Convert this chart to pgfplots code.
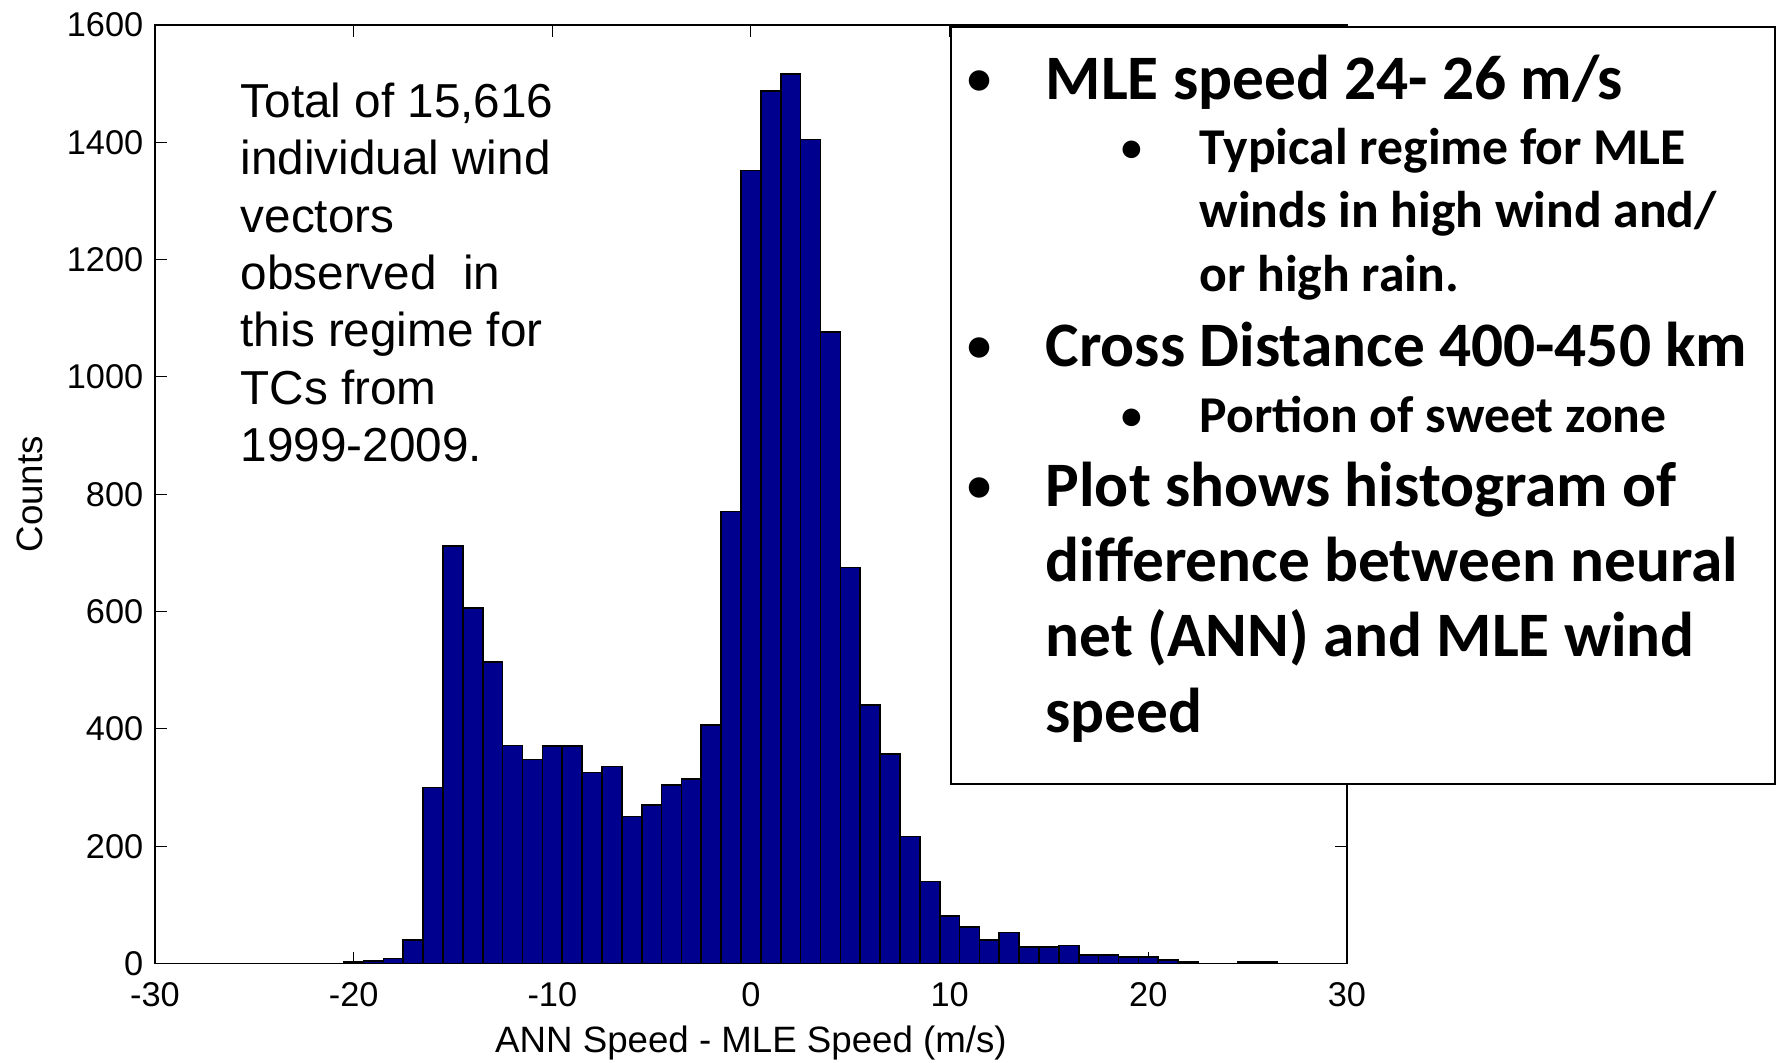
\documentclass[border=0pt]{standalone}
\usepackage{fontspec}
\setmainfont{Liberation Sans}
\newfontfamily\calibri{Carlito}
\usepackage{pgfplots}
\pgfplotsset{compat=1.18}
\definecolor{histblue}{RGB}{0,0,143}

% Histogram counts, one bin per 1 m/s, centred on integers
\pgfplotstableread{
x y
-20 3
-19 5
-18 9
-17 40
-16 300
-15 712
-14 606
-13 514
-12 372
-11 348
-10 371
-9 371
-8 326
-7 336
-6 251
-5 271
-4 304
-3 315
-2 407
-1 771
0 1352
1 1487
2 1516
3 1405
4 1077
5 675
6 441
7 357
8 217
9 140
10 81
11 62
12 40
13 53
14 28
15 28
16 31
17 15
18 15
19 11
20 11
21 6
22 3
23 0
24 0
25 3
26 3
}\histdata

\newcommand{\bigbullet}{{\fontsize{14.5}{17}\selectfont\raisebox{1.5pt}{\textbullet}}}
\newcommand{\smallbullet}{{\fontsize{12.5}{15}\selectfont\raisebox{1pt}{\textbullet}}}

\begin{document}
\begin{tikzpicture}[x=0.3pt,y=0.3pt]
\useasboundingbox (0,0) rectangle (1778,1063);
\begin{axis}[
  at={(46.5pt,29.8pt)}, anchor=south west,
  scale only axis, width=357.6pt, height=281.6pt,
  xmin=-30, xmax=30, ymin=0, ymax=1600,
  xtick={-30,-20,...,30}, ytick={0,200,...,1600},
  tick align=inside, major tick length=3.5pt,
  tick style={black, line width=0.3pt},
  axis line style={line width=0.5pt},
  /pgf/number format/assume math mode=true,
  /pgf/number format/1000 sep={},
  ticklabel style={font=\fontsize{10.3}{12}\selectfont},
  xticklabel style={yshift=-2pt},
  xlabel={ANN Speed - MLE Speed (m/s)},
  ylabel={Counts},
  label style={font=\fontsize{11}{13}\selectfont},
  x label style={at={(axis description cs:0.5,-0.0951)},anchor=base},
  y label style={at={(axis description cs:-0.094,0.5)},anchor=base},
]
\addplot[ybar, bar width=1, bar shift=0pt, fill=histblue, draw=black, line width=0.5pt]
  table[x=x,y=y] {\histdata};
\end{axis}

% annotation on the left
\begin{scope}[every node/.style={anchor=base west, inner sep=0pt, font=\fontsize{14.3}{17}\selectfont}]
\node at (240,945.7) {Total of 15,616};
\node at (240,888.3) {individual wind};
\node at (240,830.9) {vectors};
\node at (240,773.5) {observed\ \ in};
\node at (240,716.1) {this regime for};
\node at (240,658.7) {TCs from};
\node at (240,601.3) {1999-2009.};
\end{scope}

% bullet box on the right
\draw[line width=0.6pt, fill=white] (951,279) rectangle (1775,1036);
\begin{scope}[every node/.style={inner sep=0pt, font=\calibri\bfseries\fontsize{19}{22}\selectfont}]
\node[anchor=base] at (980,963) {\bigbullet};
\node[anchor=base west] at (1045,963) {MLE speed 24- 26 m/s};
\node[anchor=base] at (980,696) {\bigbullet};
\node[anchor=base west] at (1045,696) {Cross Distance 400-450 km};
\node[anchor=base] at (980,556) {\bigbullet};
\node[anchor=base west] at (1045,556) {Plot shows histogram of};
\node[anchor=base west] at (1045,481) {difference between neural};
\node[anchor=base west] at (1045,406) {net (ANN) and MLE wind};
\node[anchor=base west] at (1045,330) {speed};
\end{scope}
\begin{scope}[every node/.style={inner sep=0pt, font=\calibri\bfseries\fontsize{15.5}{18}\selectfont}]
\node[anchor=base] at (1132,898) {\smallbullet};
\node[anchor=base west] at (1199,898) {Typical regime for MLE};
\node[anchor=base west] at (1199,835) {winds in high wind and/};
\node[anchor=base west] at (1199,771) {or high rain.};
\node[anchor=base] at (1132,630) {\smallbullet};
\node[anchor=base west] at (1199,630) {Portion of sweet zone};
\end{scope}
\end{tikzpicture}
\end{document}
